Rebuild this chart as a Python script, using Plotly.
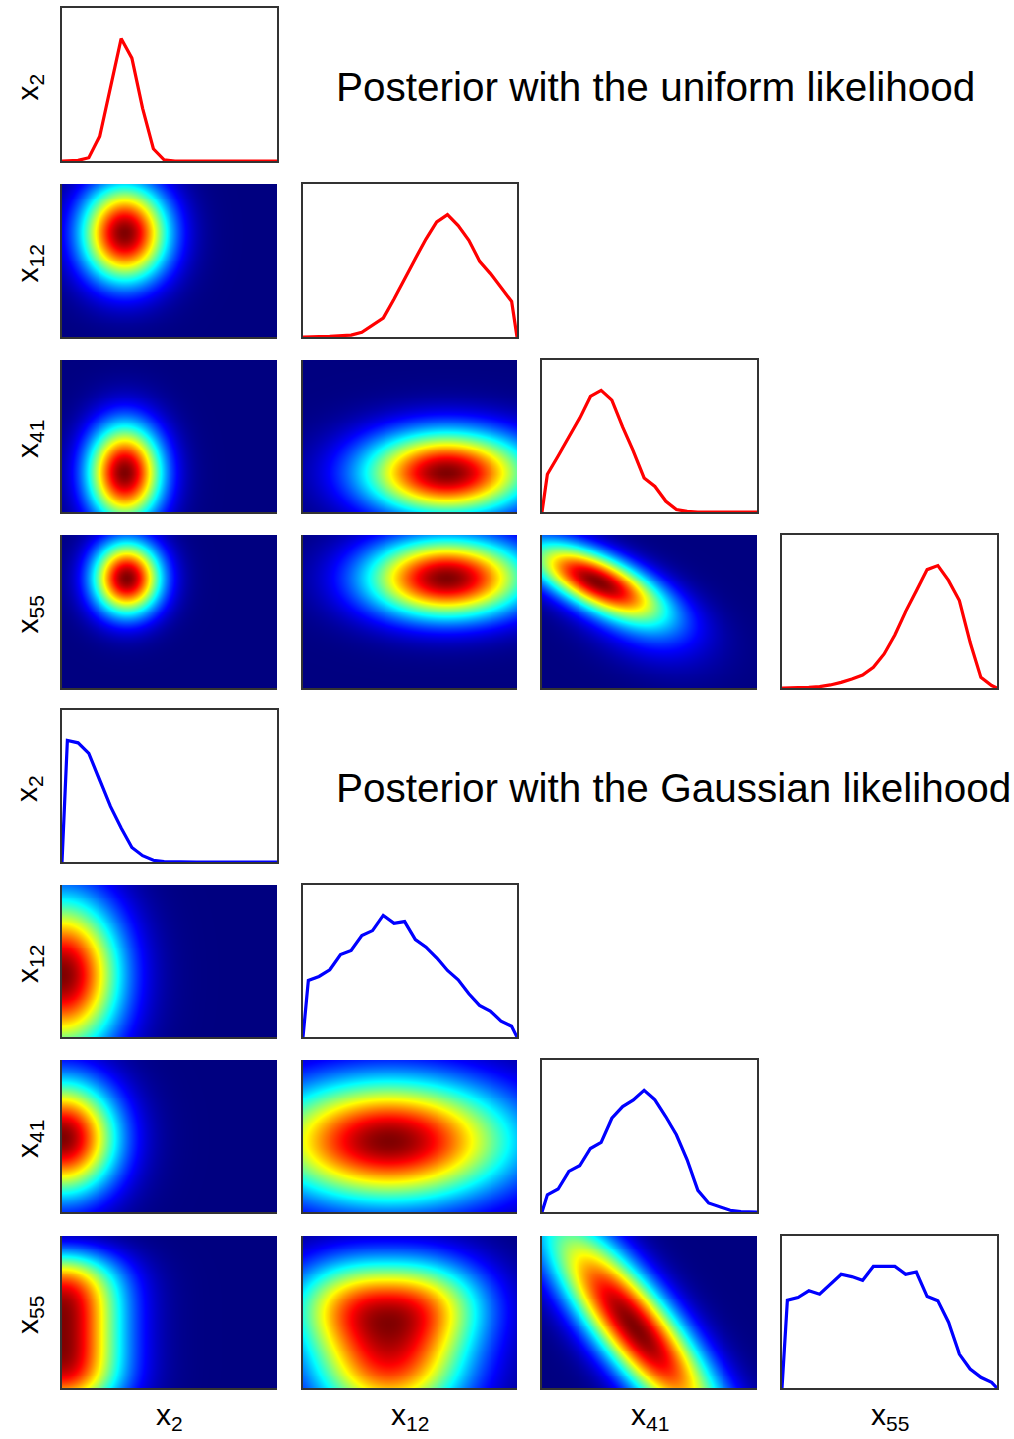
import numpy as np
import plotly.graph_objects as go

W, H = 1014, 1439
FONT = "Liberation Sans, Arial, Helvetica, sans-serif"

labels = ["x<sub>2</sub>", "x<sub>12</sub>", "x<sub>41</sub>", "x<sub>55</sub>"]
titles = ["Posterior with the uniform likelihood",
          "Posterior with the Gaussian likelihood"]

# 1-D marginals: 20-bin histograms normalised to peak 1 (bin centres at (i+0.5)/20)
uni_x2 = [0.0, 0.005, 0.027, 0.20, 0.60, 1.0, 0.84, 0.43, 0.10, 0.01,
          0, 0, 0, 0, 0, 0, 0, 0, 0, 0]
uni_x12 = [0.003, 0.003, 0.005, 0.008, 0.016, 0.038, 0.095, 0.155, 0.31, 0.48,
           0.64, 0.80, 0.94, 1.0, 0.91, 0.79, 0.62, 0.52, 0.40, 0.29]
uni_x41 = [0.31, 0.46, 0.62, 0.77, 0.95, 1.0, 0.92, 0.70, 0.50, 0.28,
           0.21, 0.09, 0.02, 0.005, 0, 0, 0, 0, 0, 0]
uni_x55 = [0.003, 0.003, 0.005, 0.011, 0.025, 0.046, 0.074, 0.106, 0.169, 0.278,
           0.433, 0.624, 0.795, 0.967, 1.0, 0.877, 0.714, 0.373, 0.087, 0.02]

gau_x2 = [1.0, 0.98, 0.894, 0.676, 0.457, 0.279, 0.120, 0.052, 0.014, 0.003,
          0, 0, 0, 0, 0, 0, 0, 0, 0, 0]
gau_x12 = [0.465, 0.498, 0.553, 0.678, 0.711, 0.834, 0.875, 1.0, 0.935, 0.949,
           0.801, 0.739, 0.651, 0.547, 0.470, 0.356, 0.260, 0.213, 0.131, 0.088]
gau_x41 = [0.142, 0.189, 0.334, 0.380, 0.522, 0.572, 0.771, 0.867, 0.922, 1.0,
           0.922, 0.785, 0.635, 0.429, 0.178, 0.074, 0.041, 0.014, 0.003, 0.0]
gau_x55 = [0.722, 0.744, 0.799, 0.771, 0.853, 0.935, 0.916, 0.886, 1.0, 1.0,
           1.0, 0.935, 0.954, 0.752, 0.717, 0.539, 0.279, 0.156, 0.088, 0.046]

# 2-D smoothed densities, each a sum of blobs:
# (weight, centre x, centre y, scale along axis, scale across axis,
#  axis angle in degrees, exponent along axis, exponent across axis)
uni_x12_x2 = [(1.0, 0.29, 0.68, 0.14, 0.22, 0, 2, 2)]
uni_x41_x2 = [(1.0, 0.29, 0.26, 0.12, 0.22, 0, 2, 2)]
uni_x41_x12 = [(1.0, 0.67, 0.26, 0.27, 0.19, 0, 2, 2)]
uni_x55_x2 = [(1.0, 0.30, 0.72, 0.11, 0.165, 0, 2, 2)]
uni_x55_x12 = [(1.0, 0.67, 0.72, 0.26, 0.18, 0, 2, 2)]
uni_x55_x41 = [(1.0, 0.24, 0.71, 0.25, 0.11, -36, 2, 2),
               (0.18, 0.46, 0.44, 0.24, 0.15, -45, 2, 2)]

gau_x12_x2 = [(1.0, 0.0, 0.41, 0.186, 0.35, 0, 2, 2)]
gau_x41_x2 = [(1.0, 0.0, 0.49, 0.175, 0.26, 0, 2, 2)]
gau_x41_x12 = [(1.0, 0.40, 0.47, 0.40, 0.28, 0, 2, 2)]
gau_x55_x2 = [(1.0, 0.0, 0.37, 0.19, 0.42, 0, 2, 4)]
gau_x55_x12 = [(1.0, 0.39, 0.55, 0.33, 0.22, 0, 2.5, 2),
               (0.95, 0.40, 0.12, 0.25, 0.25, 0, 2, 2)]
gau_x55_x41 = [(1.0, 0.43, 0.40, 0.55, 0.135, -62, 2, 2)]

# MATLAB-style jet colormap
jet = [[0.0, "rgb(0,0,128)"], [0.125, "rgb(0,0,255)"], [0.375, "rgb(0,255,255)"],
       [0.625, "rgb(255,255,0)"], [0.875, "rgb(255,0,0)"], [1.0, "rgb(128,0,0)"]]

# panel geometry in pixels
col_px = [(62, 277), (303, 517), (542, 757), (782, 997)]
row_px = [(8, 161), (184, 337), (360, 512), (535, 688),
          (710, 862), (885, 1037), (1060, 1212), (1236, 1388)]


def density(blobs, nx=110, ny=80):
    gx = np.linspace(0, 1, nx)
    gy = np.linspace(0, 1, ny)
    X, Y = np.meshgrid(gx, gy)
    Z = np.zeros_like(X)
    for w, cx, cy, s1, s2, ang, p1, p2 in blobs:
        t = np.deg2rad(ang)
        u = ((X - cx) * np.cos(t) + (Y - cy) * np.sin(t)) / s1
        v = (-(X - cx) * np.sin(t) + (Y - cy) * np.cos(t)) / s2
        Z += w * np.exp(-0.5 * (np.abs(u) ** p1 + np.abs(v) ** p2))
    return gx, gy, Z / Z.max()


sets = [
    dict(marg=[uni_x2, uni_x12, uni_x41, uni_x55], color="rgb(255,0,0)",
         pairs={(1, 0): uni_x12_x2, (2, 0): uni_x41_x2, (2, 1): uni_x41_x12,
                (3, 0): uni_x55_x2, (3, 1): uni_x55_x12, (3, 2): uni_x55_x41}),
    dict(marg=[gau_x2, gau_x12, gau_x41, gau_x55], color="rgb(0,0,255)",
         pairs={(1, 0): gau_x12_x2, (2, 0): gau_x41_x2, (2, 1): gau_x41_x12,
                (3, 0): gau_x55_x2, (3, 1): gau_x55_x12, (3, 2): gau_x55_x41}),
]

fig = go.Figure()
layout = {}
n = 0
for s_i, st in enumerate(sets):
    for i in range(4):
        for j in range(i + 1):
            n += 1
            xa = "x" if n == 1 else f"x{n}"
            ya = "y" if n == 1 else f"y{n}"
            xk = "xaxis" if n == 1 else f"xaxis{n}"
            yk = "yaxis" if n == 1 else f"yaxis{n}"
            top, bot = row_px[s_i * 4 + i]
            left, right = col_px[j]
            xdom = [left / W, right / W]
            ydom = [1 - bot / H, 1 - top / H]
            common = dict(showgrid=False, zeroline=False, showticklabels=False,
                          ticks="", showline=True, linecolor="#333333")
            if i == j:
                vals = st["marg"][i]
                nb = len(vals)
                xs = [0.0] + [(k + 0.5) / nb for k in range(nb)] + [1.0]
                ys = [0.0] + list(vals) + [0.0]
                fig.add_trace(go.Scatter(x=xs, y=ys, mode="lines",
                                         line=dict(color=st["color"], width=3.2),
                                         xaxis=xa, yaxis=ya, showlegend=False,
                                         hoverinfo="skip", cliponaxis=False))
                layout[xk] = dict(domain=xdom, anchor=ya, range=[0, 1],
                                  mirror=True, linewidth=2, **common)
                layout[yk] = dict(domain=ydom, anchor=xa, range=[0, 1.25],
                                  mirror=True, linewidth=2, **common)
            else:
                gx, gy, Z = density(st["pairs"][(i, j)])
                fig.add_trace(go.Heatmap(x=gx, y=gy, z=Z, colorscale=jet,
                                         zmin=0, zmax=1, zsmooth="best",
                                         showscale=False, xaxis=xa, yaxis=ya,
                                         hoverinfo="skip"))
                layout[xk] = dict(domain=xdom, anchor=ya, range=[0, 1],
                                  linewidth=1.5, **common)
                layout[yk] = dict(domain=ydom, anchor=xa, range=[0, 1],
                                  linewidth=1.5, **common)

ann = []
LBL = dict(size=30, color="black", family=FONT)
# row labels (variable on the vertical axis)
for r in range(8):
    top, bot = row_px[r]
    ann.append(dict(text=labels[r % 4], x=29 / W, y=1 - ((top + bot) / 2 + 3) / H,
                    xref="paper", yref="paper", showarrow=False, textangle=-90,
                    xanchor="center", yanchor="middle", font=LBL))
# column labels (variable on the horizontal axis)
for c in range(4):
    left, right = col_px[c]
    ann.append(dict(text=labels[c], x=(left + right) / 2 / W, y=1 - 1416 / H,
                    xref="paper", yref="paper", showarrow=False,
                    xanchor="center", yanchor="middle", font=LBL))
# titles of the two corner plots
for t, yc in zip(titles, [87, 788]):
    ann.append(dict(text=t, x=334 / W, y=1 - yc / H, xref="paper", yref="paper",
                    showarrow=False, xanchor="left", yanchor="middle",
                    font=dict(size=40.5, color="black", family=FONT)))

fig.update_layout(width=W, height=H, margin=dict(l=0, r=0, t=0, b=0),
                  paper_bgcolor="white", plot_bgcolor="white",
                  annotations=ann, **layout)
fig.write_html("out.html")
